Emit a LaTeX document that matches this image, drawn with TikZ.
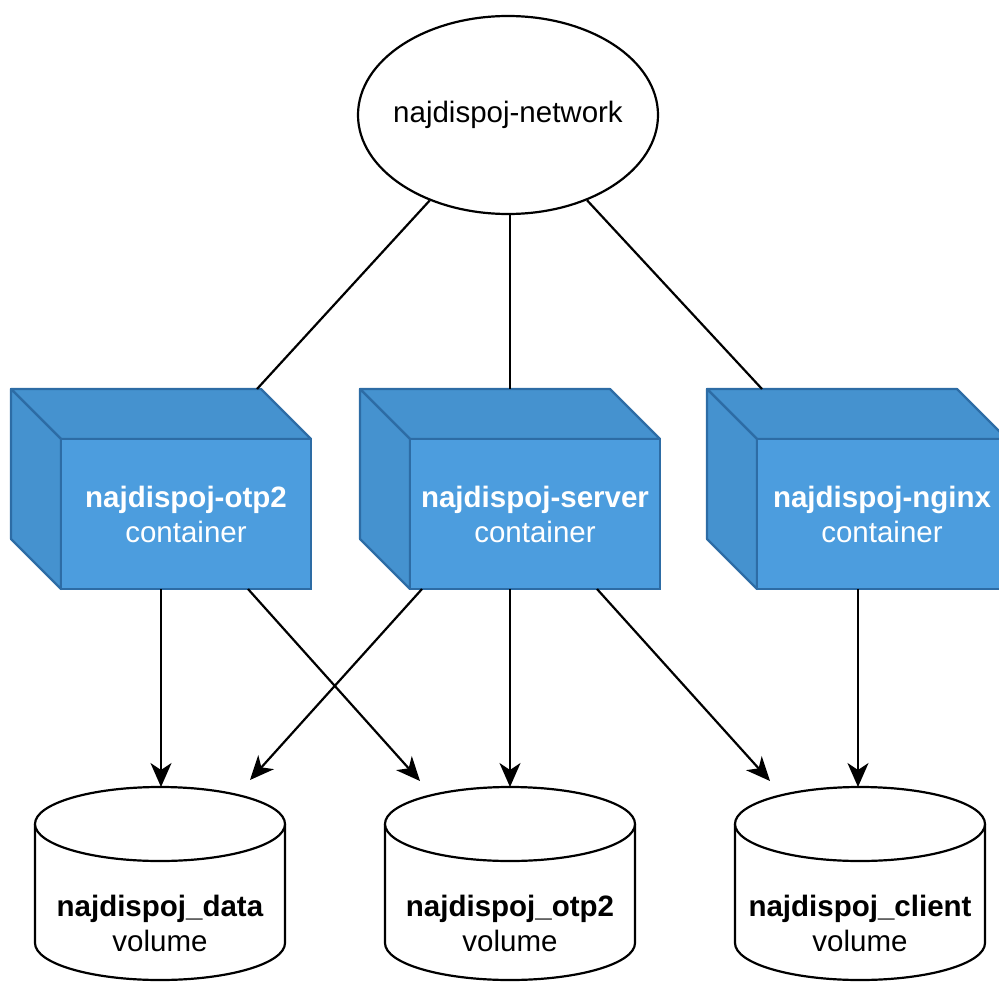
\documentclass[tikz,border=0pt]{standalone}
\usepackage{fontspec}
\setmainfont{Liberation Sans}
\usetikzlibrary{arrows.meta,shapes.geometric}
\definecolor{cubefront}{RGB}{76,157,222}
\definecolor{cubeside}{RGB}{69,146,207}
\definecolor{cubeline}{RGB}{45,108,165}
\tikzset{
  txt/.style={font=\fontsize{29.5}{35}\selectfont, align=center},
  frontface/.style={draw=cubeline, fill=cubefront, line width=2.2pt, minimum width=250pt, minimum height=150pt, inner sep=0pt, txt, text=white},
  sideface/.style={draw=cubeline, fill=cubeside, line width=2.2pt, line join=round},
  netnode/.style={draw, ellipse, line width=2.2pt, minimum width=300pt, minimum height=198pt, inner sep=0pt},
  cylline/.style={draw, line width=2.2pt, fill=white},
  link/.style={line width=2.2pt},
  arr/.style={line width=2.2pt, -{Stealth[length=24pt,width=21pt,inset=7pt]}},
}
\newcommand\drawcube[4]{% #1 back-left x, #2 name, #3 bold label, #4 top link offset
  \filldraw[sideface] (#1,389) -- (#1+250,389) -- (#1+300,439) -- (#1+50,439) -- cycle;
  \filldraw[sideface] (#1,389) -- (#1+50,439) -- (#1+50,589) -- (#1,539) -- cycle;
  \node[frontface] (#2) at (#1+175,514) {\textbf{#3}\\container};
  \coordinate (#2top) at (#1+#4,389);
}
\newcommand\drawcyl[3]{% #1 center x, #2 name, #3 bold label
  \filldraw[cylline] (#1-125,824) -- (#1-125,943) arc[start angle=180, end angle=0, x radius=125, y radius=37] -- (#1+125,824) arc[start angle=0, end angle=-180, x radius=125, y radius=37] -- cycle;
  \draw[cylline] (#1-125,824) arc[start angle=180, end angle=0, x radius=125, y radius=37];
  \node[txt, anchor=center] (#2) at (#1,923) {\textbf{#3}\\volume};
}
\begin{document}
\begin{tikzpicture}[x=1pt,y=-1pt]
\useasboundingbox (0,0) rectangle (999,982);
\clip (0,0) rectangle (999,982);

\node[netnode] (net) at (508,115) {};
\node[txt] (netlabel) at (net.center) {najdispoj-network};

\drawcube{11}{otp}{najdispoj-otp2}{246}
\drawcube{360}{server}{najdispoj-server}{150}
\drawcube{707}{nginx}{najdispoj-nginx}{55}

\drawcyl{160}{data}{najdispoj\_data}
\drawcyl{510}{votp}{najdispoj\_otp2}
\drawcyl{860}{client}{najdispoj\_client}

\draw[link] (net) -- (otptop);
\draw[link] (net.south -| servertop) -- (servertop);
\draw[link] (net) -- (nginxtop);

\coordinate (o1) at (161,589);
\coordinate (o2) at (248,589);
\coordinate (s1) at (422,589);
\coordinate (s2) at (510,589);
\coordinate (s3) at (597,589);
\coordinate (n1) at (858,589);
\coordinate (d1) at (161,787);
\coordinate (d2) at (250,780);
\coordinate (v1) at (420,781);
\coordinate (v2) at (510,787);
\coordinate (c1) at (770,781);
\coordinate (c2) at (858,787);

\draw[arr] (o1) -- (d1);
\draw[arr] (o2) -- (v1);
\draw[arr] (s1) -- (d2);
\draw[arr] (s2) -- (v2);
\draw[arr] (s3) -- (c1);
\draw[arr] (n1) -- (c2);
\end{tikzpicture}
\end{document}
